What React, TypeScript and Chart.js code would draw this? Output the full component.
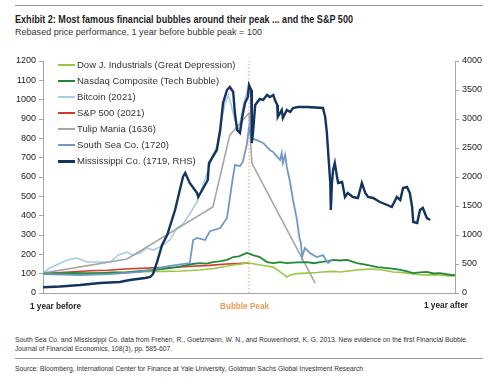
import React, { useEffect, useLayoutEffect, useRef } from "react";
import { Chart, registerables } from "chart.js";

Chart.register(...registerables);

const FONT = "'Liberation Sans', Arial, Helvetica, sans-serif";

// ---- axes ----
const xRangeDays = [-365, 365];
const leftAxisRange = [0, 1200];
const leftAxisStep = 100;
const rightAxisRange = [0, 4000];
const rightAxisStep = 500;

// ---- series (x = days from bubble peak, y = rebased price) ----
const dowDays = [-365, -330, -300, -270, -240, -210, -180, -150, -120, -87, -60, -40, -28, -15, -5, 0, 10, 19, 32, 43, 50, 55, 62, 67, 73, 85, 103, 120, 131, 150, 161, 180, 191, 205, 220, 237, 255, 270, 280, 295, 308, 325, 338, 350, 361, 365];
const dowValues = [100, 101, 103, 104, 106, 108, 110, 112, 114, 119, 128, 138, 145, 150, 155, 155, 150, 145, 140, 134, 120, 109, 95, 83, 93, 100, 103, 106, 109, 112, 109, 115, 119, 122, 124, 119, 109, 106, 103, 97, 93, 95, 93, 90, 88, 88];

const nasdaqDays = [-365, -340, -310, -290, -264, -240, -220, -206, -190, -170, -155, -145, -130, -117, -100, -87, -75, -64, -50, -39, -28, -18, -10, -4, 0, 7, 19, 32, 43, 55, 67, 85, 103, 115, 126, 140, 149, 160, 174, 191, 209, 227, 245, 260, 268, 280, 291, 303, 315, 327, 338, 350, 361, 365];
const nasdaqValues = [100, 102, 104, 101, 103, 106, 105, 110, 114, 119, 124, 128, 133, 140, 150, 155, 152, 160, 165, 171, 186, 190, 200, 207, 204, 196, 186, 160, 155, 160, 155, 158, 160, 154, 160, 165, 171, 168, 171, 155, 145, 134, 129, 124, 119, 112, 103, 107, 109, 101, 103, 97, 93, 92];

const bitcoinDays = [-365, -353, -322, -305, -287, -264, -246, -232, -216, -206, -193, -181, -170, -158, -140, -128, -117, -105, -92, -82, -74, -66, -57, -51, -43, -37, -32, -25, -18, -11, -5, -2, 2, 5];
const bitcoinValues = [103, 129, 171, 181, 160, 160, 160, 196, 212, 196, 207, 233, 222, 238, 274, 336, 357, 409, 471, 554, 621, 688, 760, 859, 973, 1024, 978, 895, 843, 957, 1024, 1060, 1040, 1009];

const sp500Days = [-365, -340, -310, -280, -250, -220, -190, -160, -130, -100, -70, -40, -20, 0];
const sp500Values = [100, 104, 110, 115, 118, 124, 128, 131, 133, 138, 143, 150, 152, 155];

const tulipDays = [-365, -216, -64, -34, 0, 5, 117];
const tulipValues = [103, 176, 445, 817, 931, 672, 52];

const southSeaDays = [-365, -299, -246, -193, -140, -105, -99, -92, -78, -69, -51, -39, -30, -25, -16, -11, -4, 0, 5, 14, 25, 37, 43, 50, 55, 58, 60, 64, 67, 73, 78, 85, 89, 92, 94, 99, 108, 120, 131, 140, 147];
const southSeaValues = [98, 93, 98, 109, 140, 155, 274, 285, 274, 320, 336, 388, 569, 662, 657, 678, 766, 854, 800, 791, 776, 740, 729, 704, 688, 724, 672, 714, 652, 569, 481, 378, 290, 259, 186, 233, 207, 186, 196, 155, 171];

// Mississippi Co. on the right-hand scale
const mississippiDays = [-365, -335, -299, -264, -229, -211, -184, -175, -170, -163, -154, -145, -131, -117, -113, -105, -92, -90, -83, -73, -71, -57, -51, -46, -39, -34, -28, -25, -21, -16, -12, -7, -2, 0, 4, 5, 7, 11, 19, 25, 32, 37, 43, 46, 50, 51, 58, 60, 67, 73, 78, 87, 103, 131, 135, 138, 140, 144, 145, 147, 149, 152, 156, 158, 165, 170, 175, 184, 193, 200, 206, 211, 220, 232, 245, 253, 262, 268, 273, 280, 285, 289, 291, 298, 303, 308, 315, 321];
const mississippiValues = [100, 112, 138, 172, 190, 224, 259, 276, 328, 534, 828, 1000, 1431, 2000, 2069, 1897, 1724, 1655, 1776, 1948, 2241, 2466, 2810, 3276, 3500, 3552, 3466, 3103, 2810, 2759, 3034, 3276, 3379, 3586, 3500, 2586, 2759, 3241, 3345, 3328, 3414, 3379, 3414, 3328, 3241, 3034, 3155, 3017, 3155, 3121, 3190, 3207, 3207, 3190, 3034, 2759, 2466, 1897, 1431, 1897, 2121, 2241, 2000, 1897, 1914, 1655, 1724, 1655, 1638, 1897, 1724, 1655, 1638, 1569, 1517, 1483, 1655, 1603, 1810, 1828, 1724, 1483, 1224, 1207, 1431, 1466, 1293, 1259];

// bubble peak marker
const peakDays = [0, 0];
const peakLevels = [0, 1200];

// ---- text ----
const titleText = "Exhibit 2: Most famous financial bubbles around their peak ... and the S&P 500";
const subtitleText = "Rebased price performance, 1 year before bubble peak = 100";
const xLabels = ["1 year before", "Bubble Peak", "1 year after"];
const footnoteLines = [
  "South Sea Co. and Mississippi Co. data from Frehen, R., Goetzmann, W. N., and Rouwenhorst, K. G. 2013. New evidence on the first Financial Bubble.",
  "Journal of Financial Economics, 108(3), pp. 585-607.",
];
const sourceText = "Source: Bloomberg, International Center for Finance at Yale University, Goldman Sachs Global Investment Research";

const seriesNames = [
  "Dow J. Industrials (Great Depression)",
  "Nasdaq Composite (Tech Bubble)",
  "Bitcoin (2021)",
  "S&P 500 (2021)",
  "Tulip Mania (1636)",
  "South Sea Co. (1720)",
  "Mississippi Co. (1719, RHS)",
];
const seriesColors = ["#9DC640", "#23893A", "#A8CBEB", "#CF3A2C", "#A6A6A6", "#7297C9", "#12345F"];
const seriesWidths = [1.6, 1.8, 1.6, 1.6, 1.6, 1.8, 2.4];

const pts = (xs: number[], ys: number[]) => xs.map((x, i) => ({ x, y: ys[i] }));

function FitText(props: {
  text: string; left: number; cy: number; width: number; size: number;
  weight?: number | string; color?: string;
}) {
  const ref = useRef<HTMLSpanElement>(null);
  useLayoutEffect(() => {
    const el = ref.current;
    if (!el) return;
    el.style.transform = "none";
    const w = el.getBoundingClientRect().width;
    if (w > 0) el.style.transform = `scaleX(${props.width / w})`;
  }, [props.text, props.width]);
  const lh = Math.round(props.size * 1.3);
  return (
    <span
      ref={ref}
      style={{
        position: "absolute",
        left: props.left,
        top: props.cy - lh / 2,
        fontFamily: FONT,
        fontSize: props.size,
        fontWeight: props.weight ?? 400,
        color: props.color ?? "#222",
        whiteSpace: "nowrap",
        lineHeight: lh + "px",
        transformOrigin: "0 0",
        display: "inline-block",
      }}
    >
      {props.text}
    </span>
  );
}

function BubbleChart() {
  const ref = useRef<HTMLCanvasElement>(null);
  useEffect(() => {
    if (!ref.current) return;
    const seriesData = [
      pts(dowDays, dowValues),
      pts(nasdaqDays, nasdaqValues),
      pts(bitcoinDays, bitcoinValues),
      pts(sp500Days, sp500Values),
      pts(tulipDays, tulipValues),
      pts(southSeaDays, southSeaValues),
      pts(mississippiDays, mississippiValues),
    ];
    const drawOrder = [3, 2, 5, 6, 4, 1, 0]; // lower = drawn on top
    const datasets: any[] = seriesData.map((d, i) => ({
      label: seriesNames[i],
      data: d,
      borderColor: seriesColors[i],
      backgroundColor: seriesColors[i],
      borderWidth: seriesWidths[i],
      pointRadius: 0,
      tension: 0,
      fill: false,
      yAxisID: i === 6 ? "y2" : "y",
      order: drawOrder[i],
    }));
    datasets.push({
      label: "peak",
      data: pts(peakDays, peakLevels),
      borderColor: "#F0A15E",
      borderWidth: 1,
      borderDash: [1.5, 2],
      pointRadius: 0,
      yAxisID: "y",
      order: 10,
    });
    const tickFont = { family: FONT, size: 9 };
    const plain = (v: any) => String(v);
    const chart = new Chart(ref.current, {
      type: "line",
      data: { datasets },
      options: {
        responsive: false,
        animation: false,
        devicePixelRatio: 1,
        layout: { padding: { top: 21, left: 0, right: 0, bottom: 0 } },
        plugins: { legend: { display: false }, tooltip: { enabled: false } },
        scales: {
          x: {
            type: "linear",
            min: xRangeDays[0],
            max: xRangeDays[1],
            ticks: { display: false },
            grid: { display: false },
            border: { color: "#A6A6A6", width: 1 },
            afterFit: (s: any) => { s.height = 17; },
          },
          y: {
            position: "left",
            min: leftAxisRange[0],
            max: leftAxisRange[1],
            ticks: { stepSize: leftAxisStep, font: tickFont, color: "#222", padding: 3, callback: plain },
            grid: { drawOnChartArea: false, tickLength: 4, color: "#A6A6A6" },
            border: { color: "#A6A6A6", width: 1 },
            afterFit: (s: any) => { s.width = 43; },
          },
          y2: {
            position: "right",
            min: rightAxisRange[0],
            max: rightAxisRange[1],
            ticks: { stepSize: rightAxisStep, font: tickFont, color: "#222", padding: 3, callback: plain },
            grid: { drawOnChartArea: false, tickLength: 4, color: "#A6A6A6" },
            border: { color: "#A6A6A6", width: 1 },
            afterFit: (s: any) => { s.width = 44; },
          },
        },
      } as any,
    });
    return () => chart.destroy();
  }, []);
  return (
    <canvas
      ref={ref}
      width={499}
      height={270}
      style={{ position: "absolute", left: 0, top: 40, width: 499, height: 270 }}
    />
  );
}

export default function App() {
  const legendY = [65, 81, 97, 113, 129, 145, 161];
  return (
    <div style={{ position: "absolute", left: 0, top: 0, width: 499, height: 382, background: "#fff", overflow: "hidden" }}>
      <div style={{ position: "absolute", left: 15, top: 5, width: 468, height: 1, background: "#9a9a9a" }} />
      <FitText text={titleText} left={15} cy={19} width={338} size={10.5} weight={700} color="#1e1e1e" />
      <FitText text={subtitleText} left={15} cy={31.5} width={247} size={9.5} color="#333" />
      <BubbleChart />
      {seriesNames.map((n, i) => (
        <React.Fragment key={n}>
          <div
            style={{
              position: "absolute",
              left: 58,
              top: legendY[i] - seriesWidths[i] / 2,
              width: 17,
              height: seriesWidths[i] + 0.4,
              background: seriesColors[i],
            }}
          />
          <span
            style={{
              position: "absolute",
              left: 77,
              top: legendY[i] - 6,
              lineHeight: "12px",
              fontFamily: FONT,
              fontSize: 9.5,
              color: "#333",
              whiteSpace: "nowrap",
            }}
          >
            {n}
          </span>
        </React.Fragment>
      ))}
      <FitText text={xLabels[0]} left={30} cy={306} width={51} size={9} weight={700} color="#222" />
      <FitText text={xLabels[1]} left={220} cy={306} width={49} size={9} weight={700} color="#EE9A55" />
      <FitText text={xLabels[2]} left={424} cy={305} width={44} size={9} weight={700} color="#222" />
      <FitText text={footnoteLines[0]} left={15} cy={340} width={453} size={7.5} color="#333" />
      <FitText text={footnoteLines[1]} left={15} cy={348.5} width={157} size={7.5} color="#333" />
      <div style={{ position: "absolute", left: 15, top: 358, width: 468, height: 1, background: "#9a9a9a" }} />
      <FitText text={sourceText} left={15} cy={369} width={348} size={7.5} color="#333" />
    </div>
  );
}
